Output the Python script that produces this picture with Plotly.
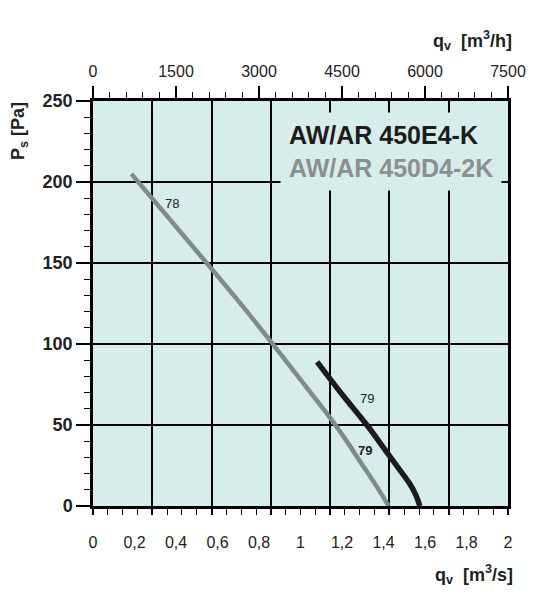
import plotly.graph_objects as go

# curve AW/AR 450D4-2K (grey) -- qv in m3/s, ps in Pa
Q_D4 = [0.185, 0.37, 0.557, 0.72, 0.859, 1.0, 1.152, 1.22, 1.287, 1.36, 1.425]
P_D4 = [205, 177, 148.6, 123.5, 101.2, 78, 52.9, 40.5, 27.5, 13.5, 0]

# curve AW/AR 450E4-K (black)
Q_E4 = [1.08, 1.2, 1.32, 1.42, 1.48, 1.525, 1.555, 1.575]
P_E4 = [89, 69, 50, 32.5, 22, 14, 7, 0]

# small numbers written along the curves
LBL_TXT = ['78', '79', '<b>79</b>']
LBL_Q = [0.379, 1.319, 1.311]
LBL_P = [186.7, 66.3, 34.4]

X_TICKS = [0, 0.2, 0.4, 0.6, 0.8, 1, 1.2, 1.4, 1.6, 1.8, 2]
X_TEXT = ['0', '0,2', '0,4', '0,6', '0,8', '1', '1,2', '1,4', '1,6', '1,8', '2']
TOP_TICKS = [0, 1500, 3000, 4500, 6000, 7500]

BG = '#d7edeb'
GREY = '#7f8b89'
BLACK = '#1c1c1c'
FONT = 'Liberation Sans, Arial, sans-serif'

fig = go.Figure()

fig.add_trace(go.Scatter(x=Q_D4, y=P_D4, mode='lines',
                         line=dict(color=GREY, width=4.5, shape='spline', smoothing=0.8),
                         hoverinfo='skip', showlegend=False))
fig.add_trace(go.Scatter(x=Q_E4, y=P_E4, mode='lines',
                         line=dict(color=BLACK, width=5.5, shape='spline'),
                         hoverinfo='skip', showlegend=False))

# empty traces so the helper axes get drawn
fig.add_trace(go.Scatter(x=[], y=[], xaxis='x2', showlegend=False))
fig.add_trace(go.Scatter(x=[], y=[], xaxis='x3', showlegend=False))

for t, q, p in zip(LBL_TXT, LBL_Q, LBL_P):
    fig.add_annotation(x=q, y=p, text=t, showarrow=False,
                       font=dict(family=FONT, size=13, color='#222'))

fig.add_annotation(
    xref='paper', yref='paper', x=0.45, y=0.875, xanchor='left', yanchor='middle',
    align='left', showarrow=False, bgcolor=BG, borderpad=8,
    text=f"<span style='color:{BLACK}'>AW/AR 450E4-K</span><br>"
         f"<span style='color:#8a908f'>AW/AR 450D4-2K</span>",
    font=dict(family=FONT, size=25, weight='bold'))

# axis titles
title_font = dict(family=FONT, size=18, weight='bold', color='#222')
fig.add_annotation(xref='paper', yref='paper', x=0.914, y=1.15,
                   xanchor='center', yanchor='middle', showarrow=False,
                   text='q<sub>v</sub>  [m<sup>3</sup>/h]', font=title_font)
fig.add_annotation(xref='paper', yref='paper', x=0.917, y=-0.17,
                   xanchor='center', yanchor='middle', showarrow=False,
                   text='q<sub>v</sub>  [m<sup>3</sup>/s]', font=title_font)
fig.add_annotation(xref='paper', yref='paper', x=-0.176, y=0.926,
                   xanchor='center', yanchor='middle', showarrow=False,
                   textangle=-90, text='P<sub>s</sub> [Pa]', font=title_font)

fig.update_layout(
    width=530, height=587,
    margin=dict(l=85, r=25, t=93, b=89),
    paper_bgcolor='white', plot_bgcolor=BG,
    font=dict(family=FONT, color='#222'),
    xaxis=dict(range=[0, 2], tickvals=X_TICKS, ticktext=X_TEXT,
               showgrid=False, zeroline=False,
               ticks='outside', ticklen=20, tickcolor='rgba(0,0,0,0)',
               tickfont=dict(size=16),
               showline=True, linewidth=2.5, linecolor='black', mirror=True),
    xaxis2=dict(range=[0, 7500], overlaying='x', side='top', anchor='y',
                tickvals=TOP_TICKS, showgrid=False, zeroline=False,
                ticks='outside', ticklen=14, tickwidth=1.5, tickcolor='black',
                minor=dict(dtick=300, ticks='outside', ticklen=8, tickwidth=1.2,
                           tickcolor='black'),
                ticklabelstandoff=3, tickfont=dict(size=16)),
    xaxis3=dict(range=[0, 2], overlaying='x', side='bottom', anchor='y',
                tick0=0, dtick=2 / 7, showticklabels=False, zeroline=False,
                showgrid=True, gridcolor='black', gridwidth=2,
                ticks='outside', ticklen=8, tickwidth=1.5, tickcolor='black',
                minor=dict(dtick=2 / 28, ticks='outside', ticklen=8,
                           tickwidth=1.2, tickcolor='black')),
    yaxis=dict(range=[0, 250], dtick=50, showgrid=True, gridcolor='black',
               gridwidth=2, zeroline=False,
               ticks='outside', ticklen=14, tickwidth=1.5, tickcolor='black',
               minor=dict(dtick=10, ticks='outside', ticklen=6, tickwidth=1.2,
                          tickcolor='black'),
               tickfont=dict(size=18, weight='bold'),
               showline=True, linewidth=2.5, linecolor='black', mirror=True),
)

fig.write_html('out.html')
